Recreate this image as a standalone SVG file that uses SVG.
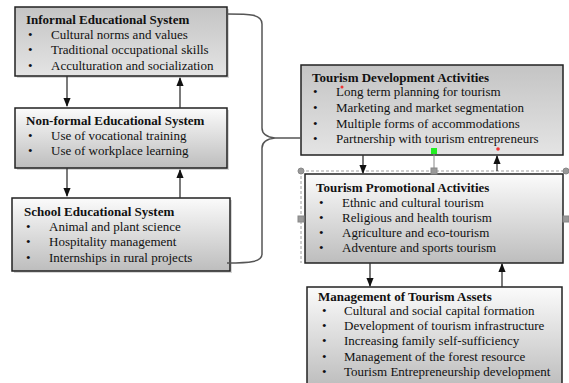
<svg xmlns="http://www.w3.org/2000/svg" width="569" height="383" viewBox="0 0 569 383">
<defs>
<linearGradient id="gDown" x1="0" y1="0" x2="0" y2="1"><stop offset="0" stop-color="#c4c4c4"/><stop offset="1" stop-color="#e4e4e4"/></linearGradient>
<linearGradient id="gUp" x1="0" y1="0" x2="0" y2="1"><stop offset="0" stop-color="#fbfbfb"/><stop offset="1" stop-color="#bdbdbd"/></linearGradient>
<marker id="ah" viewBox="0 0 10 10" refX="9" refY="5" markerWidth="7" markerHeight="7" orient="auto"><path d="M0,1 L10,5 L0,9 z" fill="#111"/></marker>
</defs>
<style>
.box{stroke:#222;stroke-width:1.5}
.sh{fill:#bbb;opacity:0.6}
text{font-family:"Liberation Serif","Times New Roman",serif;font-size:13px;fill:#111}
.t{font-weight:bold}
.c{stroke:#333;stroke-width:1.3;fill:none;marker-end:url(#ah)}
.br{stroke:#555;stroke-width:1.5;fill:none}
.sel{stroke:#888;stroke-width:0.8;stroke-dasharray:3,2;fill:none}
.h{fill:#999;stroke:#888}
</style>
<rect width="569" height="383" fill="#fff"/>

<g id="informal">
<rect class="sh" x="17" y="9" width="212" height="69"/>
<rect class="box" x="15" y="7" width="212" height="69" fill="url(#gDown)"/>
<text class="t" x="26" y="24">Informal Educational System</text>
<text x="28" y="39">•</text><text x="51" y="39">Cultural norms and values</text>
<text x="28" y="54">•</text><text x="51" y="54">Traditional occupational skills</text>
<text x="28" y="70">•</text><text x="51" y="70">Acculturation and socialization</text>
</g>

<g id="nonformal">
<rect class="sh" x="17" y="110" width="212" height="60"/>
<rect class="box" x="15" y="108" width="212" height="60" fill="url(#gUp)"/>
<text class="t" x="26" y="125">Non-formal Educational System</text>
<text x="28" y="140">•</text><text x="51" y="140">Use of vocational training</text>
<text x="28" y="155">•</text><text x="51" y="155">Use of workplace learning</text>
</g>

<g id="school">
<rect class="sh" x="14" y="200" width="218" height="73"/>
<rect class="box" x="12" y="198" width="218" height="73" fill="url(#gUp)"/>
<text class="t" x="24" y="216">School Educational System</text>
<text x="26" y="231">•</text><text x="49" y="231">Animal and plant science</text>
<text x="26" y="246">•</text><text x="49" y="246">Hospitality management</text>
<text x="26" y="262">•</text><text x="49" y="262">Internships in rural projects</text>
</g>

<g id="development">
<rect class="box" x="301" y="65" width="262" height="90" fill="url(#gDown)"/>
<text class="t" x="312" y="82">Tourism Development Activities</text>
<text x="313" y="96">•</text><text x="336" y="96">Long term planning for tourism</text>
<text x="313" y="112">•</text><text x="336" y="112">Marketing and market segmentation</text>
<text x="313" y="128">•</text><text x="336" y="128">Multiple forms of accommodations</text>
<text x="313" y="143">•</text><text x="336" y="143">Partnership with tourism entrepreneurs</text>
<circle cx="342" cy="87" r="1.5" fill="#e33"/>
</g>

<g id="promotional">
<rect class="box" x="305" y="174" width="258" height="89" fill="url(#gUp)"/>
<text class="t" x="316" y="192">Tourism Promotional Activities</text>
<text x="319" y="207">•</text><text x="342" y="207">Ethnic and cultural tourism</text>
<text x="319" y="222">•</text><text x="342" y="222">Religious and health tourism</text>
<text x="319" y="237">•</text><text x="342" y="237">Agriculture and eco-tourism</text>
<text x="319" y="252">•</text><text x="342" y="252">Adventure and sports tourism</text>
</g>

<g id="management">
<rect class="box" x="307" y="287" width="255" height="100" fill="url(#gUp)"/>
<text class="t" x="318" y="301">Management of Tourism Assets</text>
<text x="322" y="315">•</text><text x="344" y="315">Cultural and social capital formation</text>
<text x="322" y="330">•</text><text x="344" y="330">Development of tourism infrastructure</text>
<text x="322" y="345">•</text><text x="344" y="345">Increasing family self-sufficiency</text>
<text x="322" y="361">•</text><text x="344" y="361">Management of the forest resource</text>
<text x="322" y="376">•</text><text x="344" y="376">Tourism Entrepreneurship development</text>
</g>

<g id="selection">
<path class="sel" d="M301,171 H566 M301,171 V263"/>
<line x1="434" y1="152" x2="434" y2="171" stroke="#888" stroke-width="1"/>
<circle class="h" cx="301" cy="171" r="3"/>
<circle class="h" cx="566" cy="171" r="3"/>
<rect class="h" x="431" y="168" width="6" height="6"/>
<rect class="h" x="298" y="216" width="6" height="6"/>
<rect class="h" x="563" y="216" width="6" height="6"/>
<rect x="431" y="148" width="6" height="6" fill="#2e2"/>
<circle cx="498" cy="149" r="1.8" fill="#e33"/>
</g>

<g id="connectors">
<line class="c" x1="67" y1="76" x2="67" y2="106"/>
<line class="c" x1="180" y1="108" x2="180" y2="78"/>
<line class="c" x1="67" y1="168" x2="67" y2="196"/>
<line class="c" x1="180" y1="198" x2="180" y2="170"/>
<line class="c" x1="363" y1="155" x2="363" y2="173"/>
<line class="c" x1="497" y1="171" x2="497" y2="156"/>
<line class="c" x1="370" y1="263" x2="370" y2="286"/>
<line class="c" x1="502" y1="287" x2="502" y2="264"/>
<path class="br" d="M227,14 C250,14 262,14 262,24 V128 C262,134 266,137 275,138 C266,139 262,142 262,148 V254 C262,262 250,263 227,263"/>
<line class="br" x1="275" y1="138" x2="301" y2="138"/>
</g>
</svg>
